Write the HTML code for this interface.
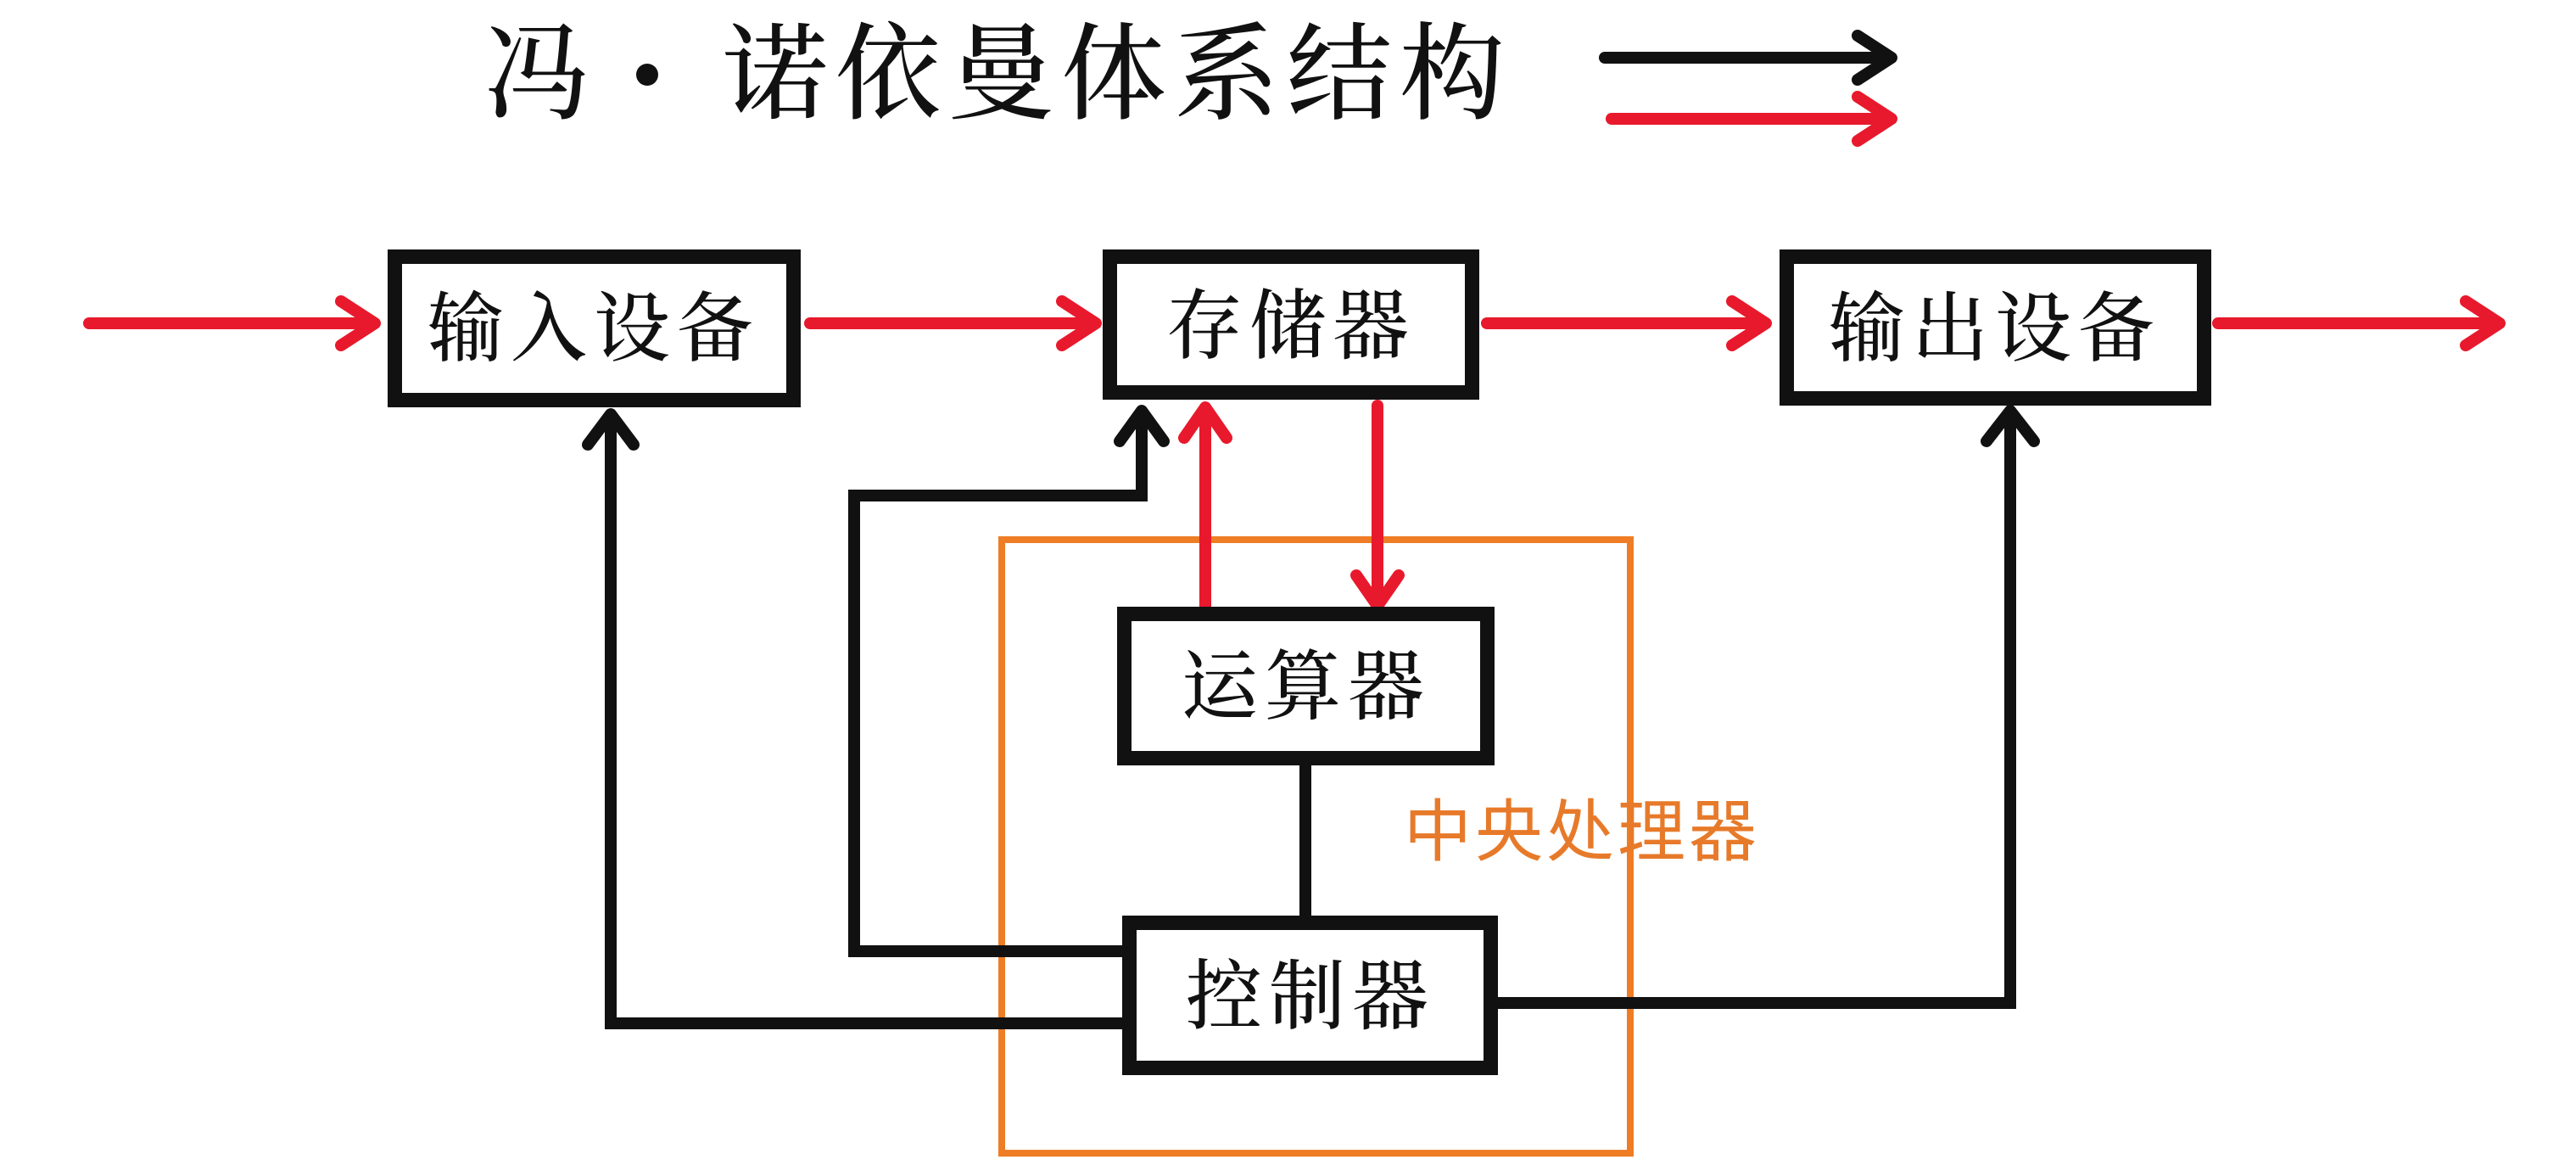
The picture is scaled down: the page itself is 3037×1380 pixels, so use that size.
<!DOCTYPE html>
<html><head><meta charset="utf-8"><style>
html,body{margin:0;padding:0;background:#fff;}
svg{display:block;}
.t{font-family:"Liberation Serif","Noto Serif CJK SC",serif;fill:#111;}
</style></head><body>
<svg width="3037" height="1380" viewBox="0 0 3037 1380" xmlns="http://www.w3.org/2000/svg">
<rect width="3037" height="1380" fill="#fff"/>
<text class="t" x="571" y="130" font-size="124" font-weight="500">冯</text>
<circle cx="763" cy="88" r="13" fill="#111"/>
<text class="t" x="852" y="130" font-size="124" font-weight="500" letter-spacing="9">诺依曼体系结构</text>
<!-- legend -->
<g stroke-linecap="round" stroke-linejoin="round" fill="none">
<line x1="1892" y1="68" x2="2228" y2="68" stroke="#111" stroke-width="14"/>
<polyline points="2190,42 2230,68 2190,94" stroke="#111" stroke-width="14"/>
<line x1="1900" y1="140" x2="2228" y2="140" stroke="#e8192c" stroke-width="14"/>
<polyline points="2190,114 2230,140 2190,166" stroke="#e8192c" stroke-width="14"/>
</g>
<!-- orange CPU box -->
<rect x="1181" y="636" width="741" height="723" fill="none" stroke="#ee7d25" stroke-width="8"/>
<text x="1655" y="1008" font-size="80" fill="#e77a2a" font-family="Liberation Sans,'Noto Sans CJK SC',sans-serif" letter-spacing="4">中央处理器</text>
<!-- black connectors -->
<g stroke="#111" stroke-width="14" fill="none" stroke-linecap="round" stroke-linejoin="miter">
<line x1="1539" y1="900" x2="1539" y2="1080"/>
<polyline points="1766,1182 2370,1182 2370,488"/>
<polyline points="2342,520 2370,484 2398,520" stroke-linejoin="round"/>
<polyline points="1323,1121 1007,1121 1007,584 1346,584 1346,488"/>
<polyline points="1320,520 1346,484 1372,520" stroke-linejoin="round"/>
<polyline points="1323,1206 720,1206 720,490"/>
<polyline points="693,524 720,488 747,524" stroke-linejoin="round"/>
</g>
<!-- red arrows -->
<g stroke="#e8192c" stroke-width="14" fill="none" stroke-linecap="round" stroke-linejoin="round">
<line x1="105" y1="381" x2="440" y2="381"/><polyline points="402,355 442,381 402,407"/>
<line x1="955" y1="381" x2="1290" y2="381"/><polyline points="1252,355 1292,381 1252,407"/>
<line x1="1753" y1="381" x2="2080" y2="381"/><polyline points="2042,355 2082,381 2042,407"/>
<line x1="2615" y1="381" x2="2945" y2="381"/><polyline points="2907,355 2947,381 2907,407"/>
<line x1="1421" y1="716" x2="1421" y2="482"/><polyline points="1396,516 1421,480 1446,516"/>
<line x1="1624" y1="478" x2="1624" y2="712"/><polyline points="1599,678 1624,714 1649,678"/>
</g>
<!-- boxes -->
<g fill="#fff" stroke="#111" stroke-width="17">
<rect x="465.5" y="302.5" width="470" height="169"/>
<rect x="1308.5" y="302.5" width="427" height="160"/>
<rect x="2106.5" y="302.5" width="492" height="167"/>
<rect x="1325.5" y="723.5" width="428" height="170"/>
<rect x="1331.5" y="1087.5" width="426" height="171"/>
</g>
<g class="t" font-size="90" text-anchor="middle" letter-spacing="8" font-weight="500">
<text x="700" y="418">输入设备</text>
<text x="1522" y="415">存储器</text>
<text x="2352" y="418">输出设备</text>
<text x="1540" y="840">运算器</text>
<text x="1545" y="1205">控制器</text>
</g>
</svg>
</body></html>
